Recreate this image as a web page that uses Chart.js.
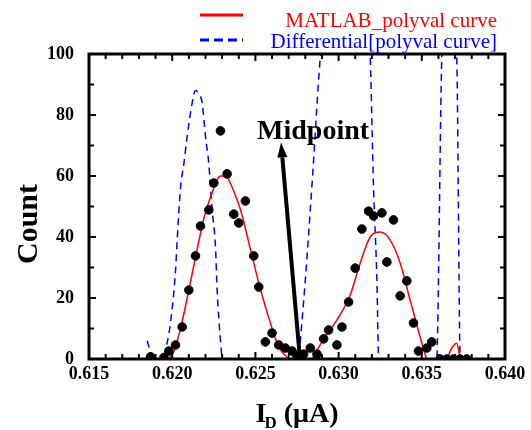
<!DOCTYPE html>
<html>
<head>
<meta charset="utf-8">
<script src="https://cdn.jsdelivr.net/npm/chart.js@4/dist/chart.umd.min.js"></script>
<style>
  html, body { margin: 0; padding: 0; background: #fff; }
  canvas { display: block; }
</style>
</head>
<body>
<canvas id="chart" width="531" height="430"></canvas>
<script>
// measured counts (black dots)
const dotX = [0.6187, 0.6195, 0.6198, 0.6202, 0.6206, 0.6210, 0.6214, 0.6217, 0.6222, 0.6225,
              0.6229, 0.6233, 0.6237, 0.6240, 0.6244, 0.6249, 0.6252, 0.6256, 0.6260, 0.6264,
              0.6268, 0.6272, 0.6275, 0.6279, 0.6283, 0.6287, 0.6291, 0.6294, 0.6299, 0.6302,
              0.6306, 0.6310, 0.6314, 0.6318, 0.6321, 0.6326, 0.6329, 0.6333, 0.6337, 0.6341,
              0.6345, 0.6348, 0.6353, 0.6356, 0.6361, 0.6365, 0.6369, 0.6373, 0.6377];
const dotY = [0.7, 0.5, 2.6, 4.6, 10.5, 22.6, 33.8, 43.6, 48.9, 57.7,
              74.8, 60.7, 47.5, 44.6, 51.8, 33.8, 23.6, 5.6, 8.5, 4.6,
              3.6, 2.6, 1.0, 1.6, 3.6, 1.6, 6.6, 9.5, 4.6, 10.5,
              18.7, 29.8, 42.6, 48.5, 46.9, 47.9, 31.8, 45.6, 20.7, 25.6,
              11.8, 2.6, 3.6, 5.6, 0, 0, 0, 0, 0];

// MATLAB polyval curve (red)
const fitX = [0.6185, 0.6187, 0.6190, 0.6193, 0.6196, 0.6200, 0.6205, 0.6210, 0.6215, 0.6219,
              0.6223, 0.6229, 0.6233, 0.6237, 0.6241, 0.6247, 0.6252, 0.6259, 0.6264, 0.6270,
              0.6276, 0.6280, 0.6284, 0.6291, 0.6299, 0.6307, 0.6313, 0.6319, 0.6325, 0.6331,
              0.6337, 0.6343, 0.6349, 0.6353, 0.6359, 0.6365, 0.6368, 0.6371, 0.6373, 0.6376];
const fitY = [0, 1.5, 0, -2, 0, 1.3, 10, 22.6, 36, 46,
              53, 60, 59.5, 55, 49, 36, 25, 11.8, 4, 0,
              -4, -3, 0, 6.5, 12.8, 21, 31.5, 40, 41.6, 39,
              31.5, 19.3, 7.2, 0, -3, 0, 3.6, 5.2, 0.3, -3];

// Differential of polyval curve (blue dashed)
const diffX = [0.6185, 0.6188, 0.6192, 0.6195, 0.6199, 0.6202, 0.6203, 0.6205, 0.6207, 0.6209,
               0.6212, 0.6214, 0.6216, 0.6218, 0.6220, 0.6222, 0.6224, 0.6226, 0.6227, 0.6229,
               0.6230, 0.6250, 0.6270, 0.6276, 0.6280, 0.6284, 0.6289, 0.6295, 0.6313, 0.6319,
               0.6321, 0.6323, 0.6324, 0.6340, 0.6359, 0.6362, 0.6366, 0.6371, 0.6373, 0.6376];
const diffY = [6, 0, -10, 0, 12, 29, 39, 56, 64, 73,
               84, 88, 87, 84, 73, 64, 49, 37, 22.6, 6,
               0, -60, -30, 0, 26, 57, 99, 130, 150, 99,
               56, 26, 0.7, -50, 0, 99, 130, 99, 0, -20];

const xTicks = [0.615, 0.620, 0.625, 0.630, 0.635, 0.640];
const yTicks = [0, 20, 40, 60, 80, 100];

// midpoint arrow, data coordinates [I_D, count]
const arrowFrom = [0.62768, 0];
const arrowTo = [0.62654, 71];
const midLabel = ['Midpoint', 0.6251, 72];

const SERIF = '"Liberation Serif", "Times New Roman", serif';

function pts(xs, ys) {
    return xs.map((v, i) => ({x: v, y: ys[i]}));
}

function line(ctx, x1, y1, x2, y2) {
    ctx.beginPath();
    ctx.moveTo(x1, y1);
    ctx.lineTo(x2, y2);
    ctx.stroke();
}

const decor = {
    id: 'decor',
    afterDatasetsDraw(chart) {
        const {ctx, chartArea: a, scales: {x, y}} = chart;
        ctx.save();
        ctx.strokeStyle = '#000';
        ctx.fillStyle = '#000';

        // inward ticks on all four sides
        ctx.lineWidth = 2;
        const xs = xTicks[0], xe = xTicks[xTicks.length - 1];
        for (let i = 0; i <= Math.round((xe - xs) / 0.001); i++) {
            const px = x.getPixelForValue(xs + i * 0.001);
            const len = i % 5 === 0 ? 7 : 5;
            line(ctx, px, a.bottom, px, a.bottom - len);
            line(ctx, px, a.top, px, a.top + len);
        }
        for (let v = yTicks[0]; v <= yTicks[yTicks.length - 1]; v += 10) {
            const py = y.getPixelForValue(v);
            const len = v % 20 === 0 ? 7 : 5;
            line(ctx, a.left, py, a.left + len, py);
            line(ctx, a.right, py, a.right - len, py);
        }

        // frame
        ctx.lineWidth = 3;
        ctx.strokeRect(a.left, a.top, a.right - a.left, a.bottom - a.top);

        // arrow
        const x0 = x.getPixelForValue(arrowFrom[0]), y0 = y.getPixelForValue(arrowFrom[1]);
        const x1 = x.getPixelForValue(arrowTo[0]), y1 = y.getPixelForValue(arrowTo[1]);
        const ang = Math.atan2(y1 - y0, x1 - x0);
        const head = 15, half = 5;
        ctx.lineWidth = 4;
        line(ctx, x0, y0, x1 - head * Math.cos(ang), y1 - head * Math.sin(ang));
        ctx.beginPath();
        ctx.moveTo(x1, y1);
        ctx.lineTo(x1 - head * Math.cos(ang) + half * Math.sin(ang), y1 - head * Math.sin(ang) - half * Math.cos(ang));
        ctx.lineTo(x1 - head * Math.cos(ang) - half * Math.sin(ang), y1 - head * Math.sin(ang) + half * Math.cos(ang));
        ctx.closePath();
        ctx.fill();

        ctx.font = 'bold 28px ' + SERIF;
        ctx.textAlign = 'left';
        ctx.textBaseline = 'alphabetic';
        ctx.fillText(midLabel[0], x.getPixelForValue(midLabel[1]), y.getPixelForValue(midLabel[2]));

        // y title
        ctx.save();
        ctx.translate(37, 224);
        ctx.rotate(-Math.PI / 2);
        ctx.textAlign = 'center';
        ctx.font = 'bold 30px ' + SERIF;
        ctx.fillText('Count', 0, 0);
        ctx.restore();

        // x title with subscript: I_D (μA)
        ctx.font = 'bold 28px ' + SERIF;
        const wI = ctx.measureText('I').width;
        const wU = ctx.measureText(' (μA)').width;
        ctx.font = 'bold 17px ' + SERIF;
        const wD = ctx.measureText('D').width;
        let tx = 297 - (wI + wD + wU - 2) / 2;
        ctx.font = 'bold 28px ' + SERIF;
        ctx.fillText('I', tx, 422);
        tx += wI - 2;
        ctx.font = 'bold 17px ' + SERIF;
        ctx.fillText('D', tx, 428);
        tx += wD;
        ctx.font = 'bold 28px ' + SERIF;
        ctx.fillText(' (μA)', tx, 422);

        // legend
        ctx.lineWidth = 3;
        ctx.strokeStyle = '#ff0000';
        line(ctx, 200, 15, 243, 15);
        ctx.strokeStyle = '#0000ff';
        ctx.setLineDash([9, 5]);
        line(ctx, 200, 40, 243, 40);
        ctx.setLineDash([]);
        ctx.font = '21px ' + SERIF;
        ctx.textAlign = 'right';
        ctx.fillStyle = '#ff0000';
        ctx.fillText(chart.data.datasets[1].label, 497, 27);
        ctx.fillStyle = '#0000ff';
        ctx.fillText(chart.data.datasets[2].label, 497, 48);
        ctx.restore();
    }
};

Chart.defaults.font.family = SERIF;
Chart.defaults.color = '#000';

new Chart(document.getElementById('chart'), {
    type: 'scatter',
    data: {
        datasets: [{
            label: 'Count',
            data: pts(dotX, dotY),
            backgroundColor: '#000',
            borderColor: '#000',
            pointRadius: 4.3,
            pointHoverRadius: 4.3
        }, {
            label: 'MATLAB_polyval curve',
            type: 'line',
            data: pts(fitX, fitY),
            borderColor: '#ff0000',
            borderWidth: 1.5,
            pointRadius: 0,
            cubicInterpolationMode: 'monotone',
            clip: 0
        }, {
            label: 'Differential[polyval curve]',
            type: 'line',
            data: pts(diffX, diffY),
            borderColor: '#0000ff',
            borderWidth: 1.5,
            borderDash: [7, 5],
            pointRadius: 0,
            cubicInterpolationMode: 'monotone',
            clip: 0
        }]
    },
    options: {
        responsive: false,
        animation: false,
        layout: {
            padding: {left: 0, right: 26, top: 54, bottom: 0}
        },
        plugins: {
            legend: {display: false},
            tooltip: {enabled: false}
        },
        scales: {
            x: {
                type: 'linear',
                min: xTicks[0],
                max: xTicks[xTicks.length - 1],
                grid: {display: false, drawTicks: false},
                border: {display: false},
                afterBuildTicks: (s) => { s.ticks = xTicks.map(v => ({value: v})); },
                afterFit: (s) => { s.height = 71; },
                ticks: {
                    padding: 5,
                    maxRotation: 0,
                    font: {size: 18, weight: 'bold'},
                    callback: (v) => v.toFixed(3)
                }
            },
            y: {
                min: yTicks[0],
                max: yTicks[yTicks.length - 1],
                grid: {display: false},
                border: {display: false},
                afterBuildTicks: (s) => { s.ticks = yTicks.map(v => ({value: v})); },
                afterFit: (s) => { s.width = 89; },
                ticks: {
                    padding: 7,
                    font: {size: 18, weight: 'bold'}
                }
            }
        }
    },
    plugins: [decor]
});
</script>
</body>
</html>
